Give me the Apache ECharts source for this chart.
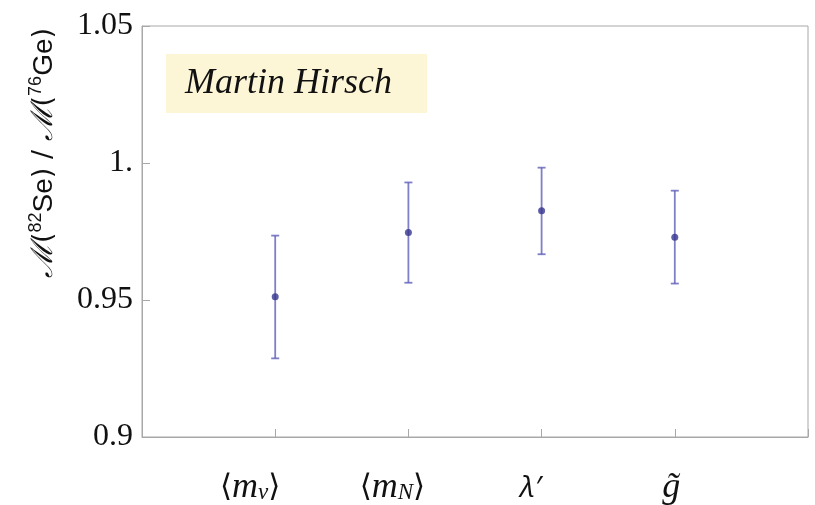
<!DOCTYPE html>
<html>
<head>
<meta charset="utf-8">
<script src="https://cdn.jsdelivr.net/npm/echarts@6/dist/echarts.min.js"></script>
<style>html,body{margin:0;padding:0;background:#fff}#c{width:815px;height:505px}</style>
</head>
<body>
<div id="c"></div>
<script>
// ---- data ----
var categories = ['mnu', 'mN', 'lambda', 'gtilde'];
var xPositions = [1, 2, 3, 4];
var centralValues = [0.9512, 0.9746, 0.9826, 0.9729];
var lowerValues   = [0.9287, 0.9563, 0.9667, 0.9560];
var upperValues   = [0.9735, 0.9929, 0.9983, 0.9899];
var yTickValues = [0.9, 0.95, 1.0, 1.05];
var yTickLabels = ['0.9', '0.95', '1.', '1.05'];
var xTickLabels = [
  '{b|⟨}{i|m}{sub|ν}{b|⟩}{sp0|}',
  '{b|⟨}{i|m}{sub|N}{b|⟩}{sp1|}',
  '{l|λ′}{sp2|}',
  '{i|g̃}{sp3|}'
];
var annotation = 'Martin Hirsch';

var chart = echarts.init(document.getElementById('c'), null, {renderer: 'canvas'});

var pointData = xPositions.map(function (x, i) { return [x, centralValues[i]]; });
var barData = xPositions.map(function (x, i) { return [x, lowerValues[i], upperValues[i]]; });

var barColor = 'rgba(95,95,185,0.8)';
var serif = '"Liberation Serif", "DejaVu Serif", serif';

var option = {
  animation: false,
  backgroundColor: '#fff',
  grid: {
    left: 142, right: 7, top: 26, bottom: 68,
    outerBoundsMode: 'none',
    containLabel: false,
    show: true, borderColor: '#a8a8a8', borderWidth: 1, backgroundColor: 'transparent'
  },
  title: {
    text: annotation,
    left: 166, top: 54,
    backgroundColor: '#fcf5d6',
    padding: [0, 35, 0, 19],
    textStyle: {
      fontFamily: serif, fontStyle: 'italic', fontWeight: 'normal',
      fontSize: 36, color: '#111', lineHeight: 59
    }
  },
  xAxis: {
    type: 'value', min: 0, max: 5, interval: 1,
    axisLine: {show: true, lineStyle: {color: '#a8a8a8', width: 1}},
    axisTick: {show: true, inside: true, length: 8, lineStyle: {color: '#a8a8a8'}},
    splitLine: {show: false},
    axisLabel: {
      margin: 35,
      formatter: function (v) {
        var idx = xPositions.indexOf(Math.round(v));
        return idx >= 0 ? xTickLabels[idx] : '';
      },
      rich: {
        b: {fontFamily: '"DejaVu Serif", serif', fontSize: 31, color: '#111', lineHeight: 32},
        i: {fontFamily: serif, fontStyle: 'italic', fontSize: 36, color: '#111', lineHeight: 32},
        l: {fontFamily: '"Open Sans", sans-serif', fontStyle: 'italic', fontSize: 30, color: '#111', lineHeight: 32},
        sub: {fontFamily: serif, fontStyle: 'italic', fontSize: 23, color: '#111', lineHeight: 20, verticalAlign: 'bottom', padding: [9, 0, 0, 0]},
        sp0: {width: 50, fontSize: 10},
        sp1: {width: 32, fontSize: 10},
        sp2: {width: 22, fontSize: 10},
        sp3: {width: 7, fontSize: 10}
      }
    }
  },
  yAxis: {
    type: 'value', min: 0.9, max: 1.05, interval: 0.05,
    axisLine: {show: true, lineStyle: {color: '#a8a8a8', width: 1}},
    axisTick: {show: true, inside: true, length: 8, lineStyle: {color: '#a8a8a8'}},
    splitLine: {show: false},
    axisLabel: {
      margin: 9,
      fontFamily: serif, fontSize: 32, color: '#111',
      formatter: function (v) {
        for (var k = 0; k < yTickValues.length; k++) {
          if (Math.abs(v - yTickValues[k]) < 1e-6) return yTickLabels[k];
        }
        return '';
      }
    }
  },
  graphic: [{
    type: 'text',
    x: 44, y: 153,
    rotation: Math.PI / 2,
    style: {
      text: '{m|ℳ}{p|(}{sup|82}{s|Se}{p|)}{p| / }{m|ℳ}{p|(}{sup|76}{s|Ge}{p|)}',
      align: 'center', verticalAlign: 'middle',
      rich: {
        m: {fontFamily: '"DejaVu Serif", serif', fontStyle: 'italic', fontSize: 30, fill: '#111', lineHeight: 34},
        p: {fontFamily: '"DejaVu Sans", sans-serif', fontSize: 27, fill: '#111', lineHeight: 34},
        s: {fontFamily: '"Liberation Sans", sans-serif', fontSize: 28, fill: '#111', lineHeight: 34},
        sup: {fontFamily: '"Liberation Sans", sans-serif', fontSize: 18, fill: '#111', lineHeight: 18, verticalAlign: 'top'}
      }
    }
  }],
  series: [
    {
      type: 'custom',
      data: barData,
      z: 2,
      renderItem: function (params, api) {
        var x = api.value(0);
        var lo = api.coord([x, api.value(1)]);
        var hi = api.coord([x, api.value(2)]);
        var hw = 4;
        var st = {stroke: barColor, lineWidth: 1.8};
        return {
          type: 'group',
          children: [
            {type: 'line', shape: {x1: lo[0], y1: lo[1], x2: hi[0], y2: hi[1]}, style: st},
            {type: 'line', shape: {x1: lo[0] - hw, y1: lo[1], x2: lo[0] + hw, y2: lo[1]}, style: st},
            {type: 'line', shape: {x1: hi[0] - hw, y1: hi[1], x2: hi[0] + hw, y2: hi[1]}, style: st}
          ]
        };
      }
    },
    {
      type: 'scatter',
      data: pointData,
      symbol: 'circle',
      symbolSize: 7,
      z: 3,
      itemStyle: {color: '#35358f'}
    }
  ]
};
chart.setOption(option);
</script>
</body>
</html>
